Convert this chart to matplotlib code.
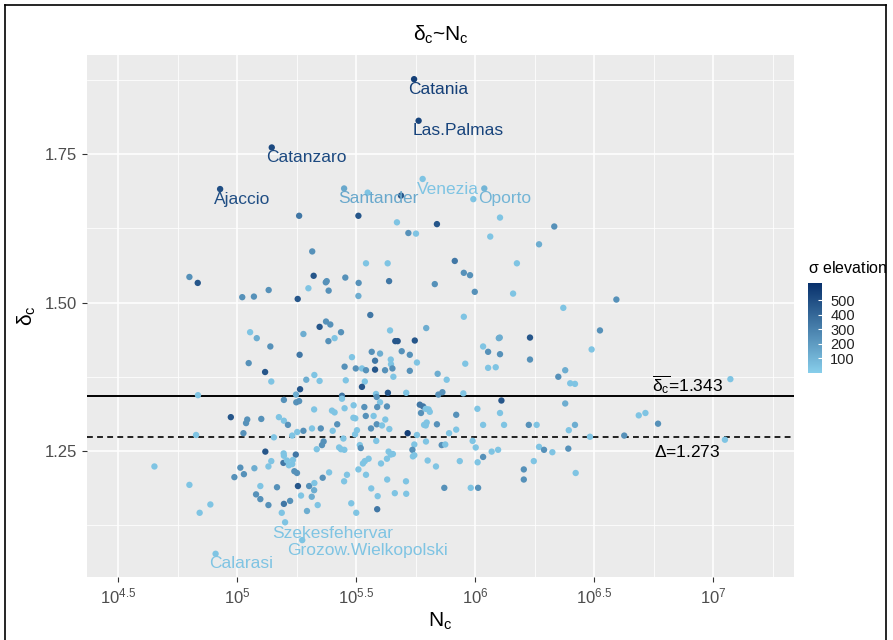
import numpy as np
import matplotlib
matplotlib.use("Agg")
import matplotlib.pyplot as plt
from matplotlib.colors import LinearSegmentedColormap, Normalize
from matplotlib.ticker import FixedLocator, NullFormatter

plt.rcParams['font.family'] = ['Liberation Sans', 'DejaVu Sans']
plt.rcParams['mathtext.fontset'] = 'custom'
plt.rcParams['mathtext.rm'] = 'Liberation Sans'
plt.rcParams['mathtext.it'] = 'Liberation Sans'
plt.rcParams['mathtext.bf'] = 'Liberation Sans:bold'

# %% data: log10(N_c), delta_c, sigma elevation
log_nc = [
    5.744, 5.763, 5.146, 4.929, 5.450, 5.780, 6.039, 4.910, 5.202, 5.274,
    5.261, 5.549, 5.689, 5.993, 5.510, 6.105,
    5.316, 4.800, 4.835, 5.322, 5.373, 5.377, 5.300, 5.385, 5.133, 5.022,
    5.071, 5.255, 5.055, 5.083, 5.140, 5.279, 5.347, 5.374, 5.392, 5.384,
    5.410, 5.263, 5.049, 5.118, 5.144, 5.291, 5.325, 5.347, 5.265,
    5.672, 5.840, 5.720, 5.752, 6.064, 6.333, 6.269, 5.542, 5.633, 5.915,
    5.953, 5.979, 6.176, 5.455, 5.511, 5.639, 5.831, 5.999, 6.160, 5.510,
    6.371, 5.560, 5.953, 5.437, 5.643, 5.795, 5.665, 5.675, 5.747, 6.100,
    6.104, 6.231, 5.566, 5.601, 5.483, 5.692, 5.726, 6.034, 6.055, 6.105,
    6.231, 5.580, 5.646, 5.647, 5.756, 5.959, 5.452, 5.499, 5.525, 5.542,
    5.580, 5.622, 5.653, 5.657, 5.726, 5.843, 5.881, 6.055, 6.087, 6.350,
    6.379, 6.400, 6.420, 5.457, 5.537, 5.525,
    6.594, 6.525, 6.490, 7.073,
    4.836, 5.248, 5.197, 5.249, 5.261, 5.324, 5.399, 5.410, 4.974, 5.043,
    5.038, 5.102, 5.176, 5.197, 5.214, 5.027, 4.828, 5.155, 5.232, 5.253,
    5.279, 5.315, 5.352, 5.402, 5.421, 5.364, 5.357, 5.335, 5.119, 5.196,
    5.197, 5.247, 5.144, 5.195, 5.210, 5.218, 5.232, 5.235, 5.014, 5.073,
    5.132, 4.653, 5.029, 5.241, 5.252, 4.989, 5.387, 5.360, 4.800, 5.098,
    5.168, 5.256, 5.303, 5.325, 5.324, 5.269, 5.314, 5.080, 5.098, 5.132,
    5.197, 5.223, 5.339, 5.294, 4.888, 4.843, 5.188,
    5.634, 5.584, 5.587, 5.441, 5.441, 5.711, 5.846, 5.863, 5.951, 5.601,
    5.490, 5.535, 5.452, 5.589, 5.630, 5.768, 5.782, 5.793, 5.805, 5.810,
    5.773, 6.010, 6.111, 6.105, 6.379, 5.541, 5.574, 5.489, 5.497, 5.921,
    5.587, 5.609, 5.623, 5.563, 5.640, 5.786, 5.797, 5.793, 5.840, 5.921,
    6.034, 6.122, 6.226, 6.259, 6.420, 5.496, 5.504, 5.717, 5.891, 5.756,
    6.394, 5.447, 5.585, 5.794, 5.990, 5.745, 5.860, 5.875, 5.516, 5.520,
    5.429, 5.437, 5.451, 5.637, 5.737, 6.003, 6.269, 6.290, 6.325, 6.392,
    6.070, 6.097, 6.034, 5.646, 5.655, 5.630, 5.739, 5.745, 5.553, 5.537,
    5.529, 5.801, 5.936, 6.011, 6.247, 5.605, 5.836, 5.510, 6.205, 6.423,
    5.462, 5.542, 5.450, 5.631, 5.710, 6.205, 5.871, 5.982, 6.013, 5.564,
    5.591, 5.663, 5.711, 5.480, 5.589, 5.501,
    6.688, 6.716, 6.769, 6.483, 6.627, 7.050,
]
delta_c = [
    1.876, 1.806, 1.761, 1.691, 1.692, 1.708, 1.692, 1.077, 1.130, 1.100,
    1.646, 1.685, 1.680, 1.674, 1.646, 1.643,
    1.586, 1.543, 1.533, 1.545, 1.534, 1.536, 1.524, 1.520, 1.521, 1.509,
    1.510, 1.506, 1.450, 1.440, 1.426, 1.447, 1.459, 1.468, 1.463, 1.435,
    1.440, 1.412, 1.398, 1.383, 1.367, 1.370, 1.378, 1.368, 1.354,
    1.635, 1.632, 1.617, 1.616, 1.611, 1.628, 1.598, 1.566, 1.566, 1.570,
    1.550, 1.546, 1.566, 1.542, 1.533, 1.536, 1.531, 1.518, 1.515, 1.511,
    1.491, 1.479, 1.476, 1.450, 1.453, 1.457, 1.435, 1.435, 1.436, 1.440,
    1.441, 1.441, 1.417, 1.414, 1.408, 1.418, 1.412, 1.426, 1.417, 1.413,
    1.404, 1.402, 1.404, 1.396, 1.399, 1.397, 1.392, 1.389, 1.389, 1.386,
    1.387, 1.386, 1.389, 1.375, 1.385, 1.380, 1.370, 1.390, 1.391, 1.375,
    1.386, 1.364, 1.363, 1.369, 1.367, 1.358,
    1.505, 1.453, 1.421, 1.371,
    1.344, 1.345, 1.336, 1.332, 1.334, 1.320, 1.318, 1.315, 1.307, 1.303,
    1.297, 1.304, 1.307, 1.301, 1.294, 1.280, 1.277, 1.273, 1.276, 1.282,
    1.284, 1.288, 1.288, 1.284, 1.295, 1.266, 1.260, 1.253, 1.249, 1.246,
    1.242, 1.244, 1.233, 1.230, 1.234, 1.226, 1.228, 1.235, 1.222, 1.221,
    1.224, 1.224, 1.211, 1.216, 1.213, 1.206, 1.214, 1.205, 1.193, 1.191,
    1.189, 1.191, 1.191, 1.196, 1.184, 1.175, 1.173, 1.177, 1.169, 1.159,
    1.161, 1.166, 1.159, 1.149, 1.160, 1.146, 1.146,
    1.348, 1.346, 1.341, 1.343, 1.338, 1.348, 1.345, 1.349, 1.347, 1.332,
    1.327, 1.324, 1.322, 1.324, 1.325, 1.328, 1.325, 1.321, 1.320, 1.316,
    1.314, 1.321, 1.335, 1.314, 1.330, 1.309, 1.309, 1.306, 1.305, 1.311,
    1.295, 1.293, 1.303, 1.288, 1.287, 1.294, 1.298, 1.293, 1.295, 1.286,
    1.294, 1.294, 1.294, 1.294, 1.294, 1.278, 1.285, 1.280, 1.280, 1.277,
    1.285, 1.271, 1.267, 1.266, 1.267, 1.261, 1.260, 1.261, 1.260, 1.255,
    1.256, 1.253, 1.252, 1.249, 1.252, 1.256, 1.257, 1.252, 1.248, 1.254,
    1.249, 1.252, 1.240, 1.244, 1.245, 1.237, 1.241, 1.243, 1.237, 1.233,
    1.229, 1.234, 1.233, 1.231, 1.233, 1.229, 1.224, 1.219, 1.219, 1.213,
    1.210, 1.210, 1.199, 1.202, 1.199, 1.202, 1.188, 1.188, 1.188, 1.187,
    1.174, 1.179, 1.178, 1.162, 1.152, 1.146,
    1.310, 1.314, 1.296, 1.274, 1.276, 1.269,
]
sigma_elev = [
    560, 540, 520, 500, 150, 40, 100, 40, 40, 40,
    340, 40, 470, 40, 470, 40,
    240, 240, 470, 470, 240, 240, 40, 240, 240, 240,
    240, 470, 40, 130, 240, 130, 470, 240, 240, 240,
    40, 340, 240, 470, 40, 130, 40, 40, 470,
    40, 470, 240, 40, 40, 240, 130, 40, 40, 340,
    240, 240, 40, 240, 240, 340, 240, 240, 40, 130,
    40, 340, 40, 240, 40, 130, 470, 470, 470, 130,
    130, 470, 240, 130, 40, 240, 240, 40, 240, 240,
    240, 340, 40, 40, 40, 40, 240, 240, 40, 240,
    470, 240, 240, 40, 240, 130, 40, 40, 40, 240,
    130, 40, 40, 40, 40, 470,
    240, 240, 40, 40,
    40, 130, 240, 240, 240, 40, 40, 40, 470, 240,
    240, 240, 40, 40, 240, 240, 40, 40, 40, 40,
    240, 40, 240, 40, 240, 240, 240, 40, 470, 40,
    40, 340, 40, 340, 40, 40, 40, 40, 240, 130,
    40, 40, 240, 240, 240, 240, 40, 240, 40, 40,
    240, 470, 240, 40, 130, 40, 130, 240, 240, 240,
    340, 240, 40, 130, 40, 40, 40,
    470, 40, 240, 340, 40, 40, 240, 240, 40, 40,
    40, 240, 40, 240, 240, 340, 340, 40, 40, 40,
    240, 40, 470, 40, 130, 240, 40, 40, 40, 240,
    240, 40, 40, 240, 40, 40, 40, 40, 240, 40,
    40, 40, 240, 40, 130, 40, 40, 560, 40, 40,
    40, 40, 40, 40, 40, 40, 240, 40, 40, 240,
    40, 40, 40, 40, 240, 40, 40, 240, 40, 240,
    40, 40, 240, 40, 40, 40, 40, 40, 40, 40,
    40, 40, 40, 40, 40, 40, 40, 40, 240, 40,
    40, 40, 40, 40, 40, 240, 240, 40, 240, 40,
    40, 40, 40, 40, 340, 40,
    40, 40, 240, 40, 240, 40,
]
# labelled cities (index into the arrays above)
city_names = ["Catania", "Las.Palmas", "Catanzaro", "Ajaccio", "Santander",
              "Venezia", "Oporto", "Calarasi", "Szekesfehervar",
              "Grozow.Wielkopolski"]
city_idx = [0, 1, 2, 3, 4, 5, 6, 7, 8, 9]

delta_mean = 1.343
delta_all = 1.273

x_ticks = [4.5, 5, 5.5, 6, 6.5, 7]
x_ticklabels = ["$10^{4.5}$", "$10^{5}$", "$10^{5.5}$", "$10^{6}$",
                "$10^{6.5}$", "$10^{7}$"]
y_ticks = [1.25, 1.50, 1.75]
cbar_ticks = [100, 200, 300, 400, 500]

# %% plot
nc = 10 ** np.array(log_nc)
cmap = LinearSegmentedColormap.from_list("elev", ["#87CEEB", "#08306B"])
norm = Normalize(vmin=0, vmax=620)

fig = plt.figure(figsize=(8.93, 6.4), dpi=100)
ax = fig.add_axes([87 / 893, 63 / 640, 707 / 893, 522 / 640])
ax.set_facecolor("#EBEBEB")
ax.set_xscale("log")
ax.set_xlim(10 ** 4.3697, 10 ** 7.3403)
ax.set_ylim(1.0379, 1.9167)

ax.xaxis.set_major_locator(FixedLocator([10 ** t for t in x_ticks]))
ax.xaxis.set_minor_locator(FixedLocator([10 ** (t + 0.25) for t in x_ticks]))
ax.xaxis.set_minor_formatter(NullFormatter())
ax.set_xticklabels(x_ticklabels)
ax.yaxis.set_major_locator(FixedLocator(y_ticks))
ax.yaxis.set_minor_locator(FixedLocator([1.125, 1.375, 1.625, 1.875]))
ax.set_yticklabels(["%.2f" % v for v in y_ticks])

ax.grid(True, which="major", color="white", linewidth=1.1)
ax.grid(True, which="minor", color="white", linewidth=0.55)
ax.set_axisbelow(True)
for s in ax.spines.values():
    s.set_visible(False)
ax.tick_params(which="major", length=3.5, width=0.8, color="#333333",
               labelcolor="#4D4D4D", labelsize=12)
ax.tick_params(which="minor", length=0)

ax.scatter(nc, delta_c, c=sigma_elev, cmap=cmap, norm=norm, s=21,
           linewidths=0, zorder=3)

ax.axhline(delta_mean, color="black", linewidth=1.4, zorder=2)
ax.axhline(delta_all, color="#222222", linewidth=1.4, linestyle=(0, (3, 2.2)), zorder=2)
ax.text(10 ** 6.891, delta_mean + 0.018, r"$\overline{\delta_c}$=%.3f" % delta_mean,
        ha="center", va="center", fontsize=12.5)
ax.text(10 ** 6.891, delta_all - 0.024, r"$\Delta$=%.3f" % delta_all,
        ha="center", va="center", fontsize=12.5)

offsets = {"Szekesfehervar": (-9, -8), "Grozow.Wielkopolski": (-11, -7.5)}
for name, i in zip(city_names, city_idx):
    off = offsets.get(name, (-4.3, -7.3))
    ax.annotate(name, (nc[i], delta_c[i]), xytext=off, textcoords="offset points",
                ha="left", va="center", fontsize=12.5,
                color=cmap(norm(sigma_elev[i])), zorder=4)

ax.set_title(r"$\delta_c$~$N_c$", fontsize=15, pad=10)
ax.set_xlabel(r"$N_c$", fontsize=15, labelpad=3)
ax.set_ylabel(r"$\delta_c$", fontsize=15, labelpad=5)

# colour bar legend
cax = fig.add_axes([808 / 893, 267 / 640, 14 / 893, 90 / 640])
cb = fig.colorbar(plt.cm.ScalarMappable(norm=norm, cmap=cmap), cax=cax)
cb.set_ticks(cbar_ticks)
cb.outline.set_visible(False)
cax.tick_params(length=3, width=0.8, color="white", direction="in",
                labelsize=10.5, labelcolor="#222222", pad=6)
fig.text(808 / 893, 1 - 268 / 640, r"$\sigma$ elevation", fontsize=11.5,
         ha="left", va="center")

# frame around figure
fig.add_artist(plt.Line2D([5 / 893, 5 / 893], [0, 1 - 5 / 640], color="black",
                          linewidth=1.2, transform=fig.transFigure))
fig.add_artist(plt.Line2D([5 / 893, 886 / 893], [1 - 5 / 640, 1 - 5 / 640],
                          color="black", linewidth=1.2, transform=fig.transFigure))
fig.add_artist(plt.Line2D([886 / 893, 886 / 893], [0, 1 - 5 / 640], color="black",
                          linewidth=1.2, transform=fig.transFigure))

fig.savefig("out.png", dpi=100)
